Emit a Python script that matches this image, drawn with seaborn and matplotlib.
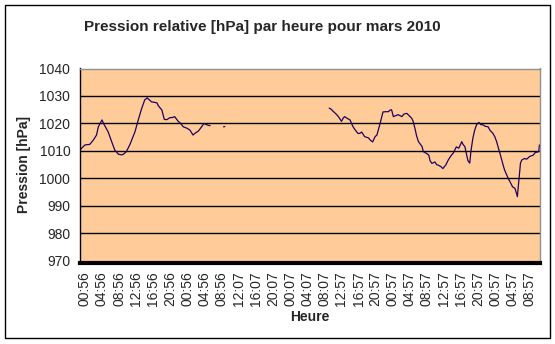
import matplotlib
matplotlib.use("Agg")
import matplotlib.pyplot as plt
import seaborn as sns
import pandas as pd
from matplotlib.patches import Rectangle

# ---------------- data ----------------
seg1_hours = [0, 8, 16, 22, 27, 30, 36, 39, 46, 52, 57, 63, 68, 71, 76, 82, 90,
              95, 101, 106, 110, 117, 126, 128, 134, 138, 142, 147, 152, 155,
              161, 164, 169, 175, 180, 185, 188, 194, 198, 203, 208, 213]
seg1_p = [1010.4, 1012.2, 1012.4, 1014.0, 1015.8, 1018.8, 1021.3, 1019.8, 1017.0,
          1013.3, 1010.3, 1008.8, 1008.6, 1008.8, 1009.8, 1012.5, 1017.0,
          1021.0, 1025.5, 1028.6, 1029.3, 1027.9, 1027.5, 1026.5, 1024.9, 1021.5,
          1021.4, 1022.1, 1022.2, 1022.5, 1020.7, 1020.2, 1018.8, 1018.3, 1017.6,
          1015.8, 1016.4, 1017.3, 1018.5, 1020.0, 1019.5, 1019.2]

seg2_hours = [235, 237]
seg2_p = [1018.8, 1018.9]

seg3_hours = [408, 411, 415, 419, 423, 428, 431, 433, 438, 442, 447, 450, 455, 458,
              461, 466, 472, 475, 479, 483, 486, 491, 496, 501, 505, 507, 510, 513,
              516, 521, 527, 530, 535, 538, 543, 545, 548, 551, 554, 560, 562, 568,
              571, 573, 576, 581, 584, 586, 591, 594, 599, 603, 608, 611, 616, 620,
              625, 627, 630, 633, 635, 638, 640, 643, 646, 649, 653, 656, 660, 663,
              668, 671, 676, 679, 682, 685, 687, 693, 695, 701, 704, 708, 712, 714,
              716, 717, 719, 721, 723, 728, 731, 736, 742, 745, 751, 752]
seg3_p = [1025.6, 1025.2, 1024.3, 1023.5, 1022.5, 1020.8, 1022.0, 1022.5, 1021.8,
          1021.3, 1018.8, 1017.8, 1016.4, 1016.4, 1016.9, 1015.2, 1014.8, 1014.0,
          1013.3, 1015.2, 1015.8, 1019.8, 1024.2, 1024.3, 1024.3, 1024.8, 1025.0,
          1022.5, 1022.8, 1023.2, 1022.5, 1023.4, 1023.7, 1023.0, 1021.9, 1021.0,
          1018.5, 1015.5, 1013.4, 1011.6, 1009.8, 1009.0, 1008.5, 1006.5, 1005.5,
          1006.0, 1005.0, 1004.9, 1004.3, 1003.6, 1005.0, 1006.8, 1008.5, 1009.2,
          1011.5, 1011.0, 1013.4, 1012.4, 1011.6, 1008.5, 1006.5, 1005.6, 1010.0,
          1014.5, 1017.5, 1019.5, 1020.4, 1019.6, 1019.5, 1019.0, 1018.8, 1017.6,
          1016.4, 1015.2, 1013.4, 1011.0, 1009.5, 1004.6, 1003.1, 1000.0, 998.8,
          997.0, 996.4, 995.0, 993.4, 996.0, 1000.7, 1005.5, 1006.7, 1007.3,
          1007.0, 1008.0, 1008.5, 1009.4, 1009.8, 1012.2]

tick_labels = ["00:56", "04:56", "08:56", "12:56", "16:56", "20:56", "00:56",
               "04:56", "08:56", "12:07", "16:07", "20:07", "00:07", "04:07",
               "08:07", "12:57", "16:57", "20:57", "00:57", "04:57", "08:57",
               "12:57", "16:57", "20:57", "00:57", "04:57", "08:57"]

y_ticks = [970, 980, 990, 1000, 1010, 1020, 1030, 1040]

title = "Pression relative [hPa] par heure pour mars 2010"
x_label = "Heure"
y_label = "Pression [hPa]"

# ---------------- build table ----------------
df = pd.concat([
    pd.DataFrame({"heure": seg1_hours, "pression": seg1_p, "seg": 1}),
    pd.DataFrame({"heure": seg2_hours, "pression": seg2_p, "seg": 2}),
    pd.DataFrame({"heure": seg3_hours, "pression": seg3_p, "seg": 3}),
], ignore_index=True)

# ---------------- plot ----------------
sns.set_style("white")
plt.rcParams["font.family"] = ["Liberation Sans", "DejaVu Sans"]

fig = plt.figure(figsize=(5.55, 3.44), dpi=100)
fig.patch.set_facecolor("white")
ax = fig.add_axes([80 / 555, 83 / 344, 460 / 555, 192.5 / 344])
ax.set_facecolor("#FFCC99")

sns.lineplot(data=df, x="heure", y="pression", units="seg", estimator=None,
             color="#200060", linewidth=0.9, ax=ax, legend=False)

ax.set_ylim(970, 1040)
ax.set_xlim(0, 753)
ax.set_yticks(y_ticks)
ax.set_yticklabels([str(v) for v in y_ticks])
for v in y_ticks[1:-1]:
    ax.axhline(v, color="black", linewidth=1.0, zorder=1)

tick_pos = [8 + 28 * j for j in range(len(tick_labels))]
ax.set_xticks(tick_pos)
ax.set_xticklabels(tick_labels)

ax.tick_params(axis="y", direction="out", length=4, width=1, color="black",
               pad=3, labelsize=10)
ax.tick_params(axis="x", length=0, pad=6, labelrotation=90, labelsize=10)

for s in ["top", "right"]:
    ax.spines[s].set_color("#909090")
    ax.spines[s].set_linewidth(1.0)
ax.spines["left"].set_color("black")
ax.spines["left"].set_linewidth(1.0)
ax.spines["bottom"].set_color("black")
ax.spines["bottom"].set_linewidth(3.0)
ax.spines["bottom"].set_position(("outward", 1.5))

ax.set_xlabel(x_label, fontsize=10, fontweight="bold", labelpad=3)
ax.set_ylabel(y_label, fontsize=10, fontweight="bold", labelpad=6)

fig.text(262 / 555, 1 - 27 / 344, title, ha="center", va="center",
         fontsize=11, fontweight="bold")

fig.patches.append(Rectangle((5 / 555, 6 / 344), 545 / 555, 333 / 344,
                             transform=fig.transFigure, fill=False,
                             edgecolor="black", linewidth=1.0))

fig.savefig("out.png", dpi=100, facecolor="white")
